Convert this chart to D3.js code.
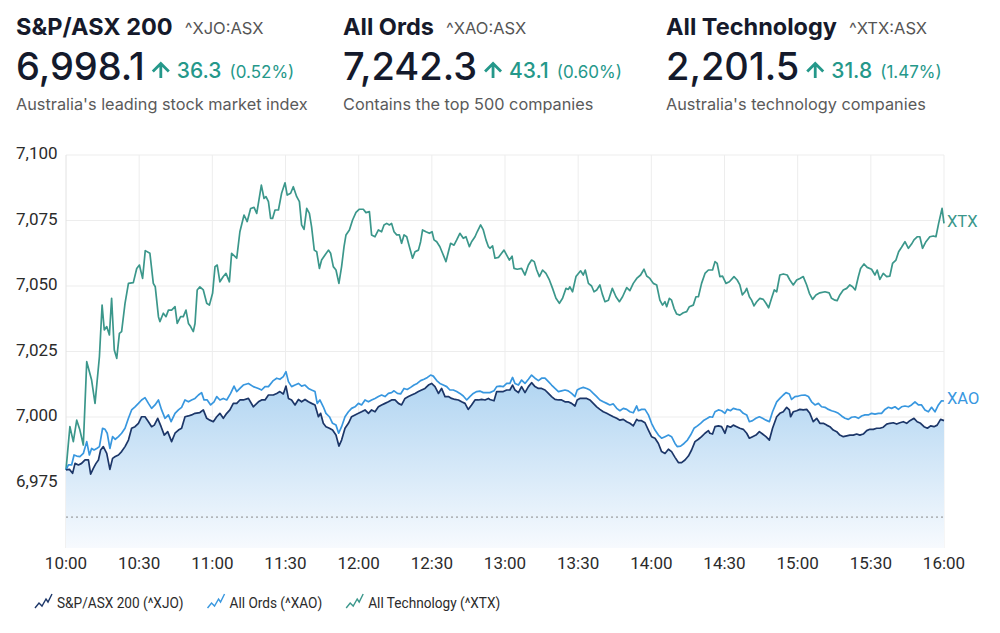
<!DOCTYPE html>
<html>
<head>
<meta charset="utf-8">
<script src="https://cdn.jsdelivr.net/npm/d3@7"></script>
<style>
  body { margin: 0; background: #fff; }
  svg { display: block; font-family: Inter, "Noto Sans", sans-serif; }
</style>
</head>
<body>
<div id="box"></div>
<script>
// header data
const indexNames = ["S&P/ASX 200", "All Ords", "All Technology"]
const tickers = ["^XJO:ASX", "^XAO:ASX", "^XTX:ASX"]
const prices = [6998.1, 7242.3, 2201.5]
const changes = [36.3, 43.1, 31.8]
const changePcts = [0.52, 0.60, 1.47]
const descriptions = ["Australia's leading stock market index", "Contains the top 500 companies", "Australia's technology companies"]

// chart data: [minutes after 10:00, value on the XJO scale]
const xjoData = [[0,6979.8],[1.4,6980.0],[2.7,6978.5],[3.7,6982.3],[5.1,6981.7],[6.4,6982.3],[7.8,6983.6],[9.2,6983.6],[10.1,6978.2],[11.2,6980.4],[12.3,6982.3],[13.3,6983.6],[14.2,6987.4],[15.3,6988.7],[16.7,6986.1],[18.0,6980.0],[19.1,6984.2],[20.2,6984.9],[21.5,6985.5],[22.8,6986.8],[24.2,6988.7],[25.6,6991.2],[26.9,6995.7],[28.3,6996.3],[29.7,6997.6],[31.0,7000.1],[32.4,7000.1],[33.8,6998.2],[35.1,6996.3],[36.2,6996.9],[37.6,6999.5],[39.0,6996.3],[40.3,6993.1],[41.7,6994.4],[43.3,6990.6],[44.7,6993.8],[46.1,6995.0],[47.4,6995.7],[48.8,7000.1],[50.2,7000.4],[51.5,7000.8],[52.9,7001.4],[54.9,7001.7],[56.3,7002.7],[57.7,6999.5],[59.0,6998.8],[60.4,6998.2],[61.8,7000.1],[63.1,7001.4],[64.5,6999.5],[65.9,7001.4],[67.2,7002.7],[68.6,7005.2],[70.0,7005.2],[71.3,7006.5],[72.7,7006.5],[74.8,7007.1],[76.8,7003.9],[78.9,7005.8],[80.2,7006.5],[81.6,7006.5],[83.0,7008.4],[85.0,7008.4],[86.4,7009.0],[87.7,7009.7],[89.1,7008.8],[90.2,7011.8],[91.2,7007.1],[92.5,7006.5],[93.9,7004.6],[95.3,7006.7],[96.6,7005.8],[98.0,7006.7],[99.4,7005.8],[100.7,7005.2],[102.1,7004.6],[103.5,7000.1],[104.4,7001.4],[105.5,6997.6],[106.6,6996.3],[108.0,6995.7],[109.3,6995.0],[110.7,6993.1],[111.9,6988.9],[113.0,6991.2],[114.4,6995.7],[115.8,6997.6],[117.1,7000.1],[118.5,7000.8],[119.9,7001.4],[121.2,7002.0],[122.6,7002.7],[124.0,7001.4],[125.3,7002.7],[126.7,7002.0],[128.1,7003.9],[129.4,7004.6],[130.8,7005.2],[132.2,7005.8],[133.5,7006.5],[134.9,7006.5],[136.3,7005.2],[137.6,7004.6],[139.0,7007.1],[140.4,7007.8],[141.7,7008.4],[143.1,7009.0],[144.5,7009.7],[145.8,7010.3],[147.2,7010.9],[148.6,7012.2],[149.9,7012.8],[151.3,7011.6],[152.7,7009.0],[154.0,7010.9],[155.4,7007.8],[156.8,7007.8],[158.1,7007.1],[159.5,7006.7],[160.9,7006.5],[162.2,7005.8],[163.6,7005.2],[164.9,7002.9],[166.3,7004.6],[167.7,7006.5],[169.1,7006.5],[170.4,7006.7],[171.8,7006.5],[173.2,7007.1],[173.8,7006.7],[175.5,7006.2],[176.6,7009.7],[177.9,7009.7],[179.3,7009.7],[180.7,7010.3],[182.0,7010.3],[183.1,7012.2],[184.1,7010.3],[185.5,7009.3],[186.8,7011.6],[188.2,7009.3],[189.6,7011.6],[190.9,7013.1],[192.3,7011.6],[193.7,7010.9],[195.0,7010.9],[196.4,7010.3],[197.8,7009.0],[199.1,7007.8],[200.5,7006.7],[201.9,7006.5],[203.2,7006.5],[204.6,7005.8],[205.9,7005.8],[207.3,7005.2],[208.7,7004.2],[209.6,7006.5],[210.7,7007.1],[212.1,7007.1],[213.5,7007.1],[214.8,7006.5],[216.2,7005.2],[217.6,7003.9],[218.9,7002.9],[220.3,7002.0],[221.7,7001.4],[223.0,7000.8],[224.4,7000.1],[225.8,6999.5],[227.1,6998.8],[228.5,6999.1],[229.9,6998.2],[231.2,6997.6],[232.6,6996.6],[234.0,6999.1],[234.7,6998.6],[236.0,6998.6],[237.4,6997.8],[238.8,6995.0],[240.1,6992.5],[241.5,6991.9],[242.9,6989.9],[244.2,6986.8],[245.6,6986.1],[247.0,6987.7],[248.3,6986.8],[249.7,6984.6],[251.1,6982.6],[252.4,6982.6],[253.8,6983.6],[255.2,6985.1],[256.5,6987.4],[257.9,6990.6],[259.3,6991.5],[260.6,6992.5],[262.0,6993.8],[263.4,6994.8],[264.0,6993.8],[265.1,6993.5],[266.1,6996.3],[267.5,6996.6],[268.8,6996.3],[270.2,6993.8],[271.1,6996.6],[272.5,6996.1],[273.6,6996.9],[275.0,6996.3],[276.3,6995.7],[277.7,6995.3],[279.1,6993.8],[280.2,6991.9],[281.5,6992.5],[282.9,6993.1],[284.3,6994.4],[285.6,6993.5],[287.0,6992.5],[288.4,6991.2],[289.7,6995.7],[291.4,7000.1],[292.7,7001.4],[294.1,7002.0],[295.5,7003.7],[296.6,7002.7],[297.1,7000.1],[298.2,7002.0],[299.6,7002.4],[300.9,7002.9],[302.3,7002.7],[303.7,7002.9],[305.0,7001.4],[306.4,6998.2],[307.8,6999.5],[309.1,6997.6],[310.5,6997.6],[311.9,6996.9],[313.2,6996.3],[314.6,6995.0],[316.0,6994.4],[317.3,6993.1],[318.7,6992.5],[320.1,6992.8],[321.4,6993.1],[322.8,6993.1],[324.2,6993.5],[325.5,6993.1],[326.9,6993.5],[328.3,6994.8],[329.6,6995.3],[331.0,6995.3],[332.4,6995.7],[333.7,6995.7],[335.1,6996.1],[336.5,6997.3],[337.8,6997.6],[339.2,6997.8],[340.6,6997.3],[341.9,6997.8],[343.3,6998.2],[344.7,6997.6],[346.0,6998.6],[347.7,6999.5],[349.0,6998.2],[350.4,6997.6],[351.8,6996.3],[353.2,6995.7],[354.5,6996.6],[355.9,6996.3],[357.2,6996.9],[358.6,6999.1],[360.0,6998.6]]

const xaoData = [[0,6979.8],[1.0,6981.7],[2.3,6981.7],[3.3,6985.5],[4.4,6985.1],[5.7,6984.9],[7.1,6986.1],[8.5,6990.6],[9.6,6985.5],[10.5,6988.0],[11.5,6987.4],[12.6,6988.0],[13.7,6988.7],[15.0,6995.7],[16.0,6995.3],[16.9,6993.8],[18.0,6988.0],[19.1,6992.5],[20.2,6991.5],[21.5,6992.5],[22.8,6993.8],[24.2,6995.7],[25.6,6999.5],[26.9,7002.7],[28.3,7003.9],[29.7,7005.2],[31.0,7006.5],[32.4,7007.4],[33.8,7005.2],[35.1,7003.3],[36.5,7004.6],[37.9,7006.5],[39.2,7002.7],[40.6,6999.5],[42.0,7000.8],[43.1,6998.2],[44.7,7001.4],[46.1,7002.7],[47.4,7003.7],[48.8,7006.5],[50.2,7005.8],[51.5,7006.5],[52.9,7007.1],[54.3,7008.4],[55.6,7009.3],[56.6,7006.5],[57.9,7006.5],[59.3,7004.6],[60.7,7005.8],[61.8,7007.8],[63.1,7006.5],[64.5,7007.1],[65.9,7006.5],[67.5,7009.0],[68.9,7011.8],[70.0,7009.7],[71.3,7010.9],[72.7,7012.2],[74.8,7012.8],[76.8,7011.6],[78.9,7010.9],[80.2,7010.3],[81.6,7011.6],[83.0,7011.6],[85.0,7013.9],[86.4,7014.8],[87.7,7014.4],[89.1,7015.4],[90.2,7017.3],[91.2,7013.5],[92.5,7011.6],[93.9,7012.2],[95.3,7012.8],[96.6,7011.8],[98.0,7012.2],[99.4,7010.9],[100.7,7010.3],[102.1,7009.7],[103.0,7005.2],[104.1,7006.5],[105.5,7003.9],[106.6,7001.4],[108.0,7000.1],[109.3,6997.6],[110.7,6996.9],[111.8,6993.8],[113.0,6996.3],[114.4,7000.1],[115.8,7002.0],[117.1,7003.3],[118.5,7003.9],[119.9,7005.2],[121.2,7004.6],[122.6,7006.5],[124.0,7005.8],[125.3,7006.5],[126.7,7007.1],[128.1,7007.8],[129.4,7008.4],[130.8,7007.8],[132.2,7009.0],[133.5,7009.3],[134.5,7010.0],[135.9,7009.0],[137.2,7008.8],[138.6,7010.9],[139.9,7010.5],[141.3,7011.3],[142.7,7012.2],[144.0,7012.8],[145.4,7013.9],[146.8,7014.4],[148.2,7015.1],[149.5,7016.0],[150.6,7015.6],[152.0,7013.9],[153.3,7012.8],[154.7,7012.2],[156.1,7011.6],[157.4,7010.3],[158.8,7010.3],[160.2,7009.7],[161.5,7009.0],[162.9,7008.0],[164.3,7006.5],[165.6,7007.8],[167.0,7009.0],[168.4,7009.7],[169.7,7009.9],[171.1,7009.3],[172.5,7009.3],[173.8,7009.3],[175.5,7010.0],[176.6,7011.6],[177.9,7011.8],[179.3,7011.6],[180.7,7012.8],[182.0,7012.8],[183.1,7015.1],[184.1,7012.8],[185.5,7012.2],[186.8,7014.1],[188.2,7012.8],[189.6,7014.4],[190.9,7016.0],[192.3,7014.8],[193.7,7013.9],[195.0,7014.8],[196.4,7014.8],[197.8,7013.5],[199.1,7012.2],[200.5,7010.9],[201.9,7009.7],[203.2,7010.0],[204.6,7010.3],[205.9,7010.0],[207.3,7009.0],[208.7,7007.8],[209.6,7010.3],[210.7,7010.9],[212.1,7011.3],[213.5,7010.9],[214.8,7010.3],[216.2,7009.0],[217.6,7007.8],[218.9,7006.5],[220.3,7005.8],[221.7,7005.2],[223.0,7004.6],[224.4,7005.0],[225.8,7003.3],[227.1,7002.4],[228.5,7003.3],[229.9,7002.9],[231.2,7002.0],[232.6,7001.6],[234.0,7004.2],[234.7,7002.4],[236.0,7002.9],[237.4,7002.9],[238.8,7000.8],[240.1,6997.6],[241.5,6995.0],[242.9,6993.1],[244.2,6991.9],[245.6,6992.5],[247.0,6993.1],[248.3,6992.5],[249.7,6989.9],[250.6,6988.7],[252.0,6988.9],[253.4,6989.9],[254.8,6991.2],[256.1,6993.1],[257.5,6995.7],[258.9,6996.6],[260.2,6997.6],[261.6,6998.8],[263.0,6999.5],[264.0,7000.1],[265.1,6999.9],[266.1,7002.0],[267.5,7002.7],[268.8,7002.4],[270.2,7001.4],[271.1,7002.9],[272.5,7002.4],[273.6,7003.3],[275.0,7002.9],[276.3,7002.7],[277.7,7001.4],[279.1,7000.8],[280.2,6998.2],[281.5,6998.6],[282.9,6999.5],[284.3,7000.1],[285.6,6999.5],[287.0,6998.8],[288.4,6998.2],[289.7,7002.0],[291.4,7005.8],[292.7,7007.1],[294.1,7008.4],[295.2,7009.3],[296.6,7008.8],[297.5,7006.7],[298.9,7007.8],[300.3,7008.0],[301.6,7008.3],[303.0,7008.4],[304.4,7007.8],[305.7,7005.8],[307.1,7004.6],[308.5,7005.2],[309.8,7003.9],[311.2,7003.7],[312.6,7002.9],[313.9,7002.4],[315.3,7002.0],[316.7,7001.4],[318.0,7000.4],[319.4,6999.5],[320.8,6999.1],[322.1,6999.9],[323.5,7000.1],[324.9,6999.5],[326.2,7000.4],[327.6,7000.8],[329.0,7000.8],[330.3,7001.4],[331.7,7001.1],[333.1,7001.4],[334.4,7001.4],[335.8,7002.9],[337.2,7003.7],[338.5,7003.3],[339.9,7003.9],[341.3,7002.9],[342.6,7003.9],[344.0,7004.2],[345.4,7003.9],[346.7,7004.6],[348.1,7005.8],[349.5,7004.6],[350.8,7004.6],[352.2,7002.7],[353.6,7002.0],[354.9,7003.7],[356.3,7002.0],[357.7,7004.6],[359.0,7006.2],[360.0,7006.1]]

const xtxData = [[0,6979.8],[1.6,6996.3],[3.0,6990.6],[4.4,6998.8],[5.7,6995.0],[7.1,6989.3],[8.5,7021.1],[10.5,7014.1],[11.9,7005.2],[13.7,7023.0],[14.8,7042.7],[15.7,7033.2],[16.7,7034.5],[17.8,7031.3],[18.7,7045.3],[19.8,7025.6],[20.8,7022.4],[21.9,7031.9],[22.8,7032.6],[24.2,7043.4],[25.6,7051.0],[27.6,7051.3],[29.0,7056.7],[30.1,7058.0],[31.4,7052.9],[32.5,7063.5],[34.4,7062.5],[35.8,7051.0],[36.6,7049.7],[37.9,7038.3],[38.5,7036.4],[39.9,7039.6],[41.0,7038.3],[42.0,7040.8],[43.3,7040.8],[44.7,7042.1],[45.6,7035.7],[47.0,7038.3],[48.1,7038.3],[49.2,7040.8],[50.2,7035.7],[51.1,7034.5],[52.2,7032.6],[52.9,7035.7],[53.8,7048.5],[54.9,7049.7],[56.3,7048.5],[57.7,7043.4],[58.8,7042.7],[60.1,7047.2],[61.1,7057.4],[62.0,7058.0],[63.1,7051.6],[64.5,7053.6],[65.6,7054.8],[67.0,7051.6],[67.9,7062.5],[70.0,7060.6],[71.3,7070.7],[73.0,7077.1],[74.3,7074.6],[75.7,7079.6],[77.1,7080.0],[78.2,7077.7],[79.0,7082.2],[80.1,7088.5],[81.2,7083.4],[82.0,7084.1],[83.0,7082.2],[83.9,7075.8],[84.7,7075.8],[85.7,7079.0],[87.1,7079.0],[88.4,7085.4],[89.8,7089.4],[90.7,7084.7],[92.1,7085.4],[93.2,7087.9],[94.6,7084.1],[95.7,7082.2],[96.6,7073.3],[97.6,7071.6],[98.7,7079.6],[99.8,7077.7],[100.7,7072.6],[101.8,7063.7],[102.8,7063.1],[103.9,7056.7],[104.8,7059.9],[106.2,7061.8],[107.6,7063.7],[108.5,7062.5],[109.6,7057.4],[110.7,7056.1],[111.9,7051.0],[113.0,7057.4],[114.0,7065.0],[114.8,7069.5],[116.2,7071.4],[117.5,7075.2],[118.9,7078.1],[120.3,7079.3],[121.9,7079.3],[123.0,7078.0],[124.4,7078.4],[125.3,7069.5],[126.7,7068.8],[128.1,7071.4],[129.4,7070.7],[130.4,7073.3],[131.5,7073.9],[132.6,7073.3],[133.5,7073.9],[134.5,7070.7],[135.6,7069.5],[136.7,7069.5],[137.6,7066.3],[138.6,7069.5],[139.7,7068.8],[140.8,7065.0],[142.1,7060.6],[143.1,7063.1],[144.5,7063.7],[145.4,7066.9],[146.2,7071.4],[147.6,7070.7],[149.0,7070.1],[150.1,7070.7],[150.9,7067.6],[152.0,7066.9],[153.3,7065.0],[154.4,7062.5],[155.8,7059.3],[156.8,7063.1],[157.7,7066.3],[159.1,7065.6],[160.2,7067.6],[161.5,7070.1],[162.9,7068.2],[164.0,7068.8],[165.4,7065.0],[166.3,7066.9],[167.7,7068.8],[168.6,7070.7],[170.0,7073.3],[171.1,7071.4],[172.2,7067.6],[173.2,7065.0],[173.8,7064.4],[174.9,7065.3],[175.9,7060.6],[177.3,7060.9],[178.6,7062.5],[179.6,7063.7],[180.7,7061.8],[181.8,7059.9],[182.9,7061.4],[183.7,7056.7],[185.0,7056.4],[186.8,7056.7],[188.2,7054.2],[189.6,7058.0],[190.9,7059.9],[192.0,7059.3],[193.0,7056.1],[194.1,7053.6],[195.4,7056.1],[196.8,7054.8],[198.2,7052.3],[199.5,7049.1],[200.9,7045.3],[202.3,7043.4],[203.6,7045.3],[205.0,7049.1],[206.0,7048.7],[206.6,7049.7],[207.7,7047.8],[209.1,7053.6],[210.1,7054.8],[211.0,7055.8],[212.1,7054.2],[212.9,7056.1],[214.2,7051.0],[215.5,7050.0],[216.5,7047.8],[217.6,7048.5],[218.9,7050.4],[219.9,7046.9],[221.0,7044.0],[222.4,7044.6],[224.0,7049.1],[225.5,7045.9],[226.9,7044.0],[228.2,7045.9],[229.9,7049.4],[231.2,7048.2],[232.6,7051.0],[234.0,7052.9],[235.6,7054.2],[237.0,7056.4],[238.1,7053.8],[239.4,7052.9],[240.8,7051.0],[242.2,7050.4],[243.5,7044.6],[244.6,7042.7],[245.6,7044.0],[246.3,7042.1],[247.4,7045.3],[248.3,7044.6],[249.3,7041.5],[250.4,7039.3],[251.7,7038.9],[253.1,7039.8],[254.5,7040.2],[255.6,7042.1],[257.2,7042.7],[258.3,7045.9],[259.3,7045.9],[260.6,7051.0],[262.0,7054.8],[263.4,7056.1],[264.0,7056.1],[265.1,7056.1],[266.1,7059.3],[267.0,7058.6],[268.1,7053.6],[269.2,7053.8],[270.6,7051.0],[272.0,7051.6],[273.9,7053.6],[275.2,7052.3],[276.3,7050.4],[277.3,7046.6],[278.4,7047.8],[279.1,7049.1],[280.2,7045.9],[281.1,7044.6],[282.1,7042.4],[283.2,7044.0],[284.5,7045.3],[285.9,7044.9],[287.0,7043.4],[288.1,7041.7],[289.3,7045.3],[290.4,7048.5],[291.4,7047.8],[292.7,7054.2],[294.1,7054.6],[295.7,7054.2],[296.8,7052.3],[298.2,7050.4],[299.6,7052.3],[300.9,7052.9],[302.3,7053.6],[303.7,7050.4],[304.8,7047.2],[306.1,7044.9],[307.5,7046.6],[309.1,7047.4],[311.2,7047.8],[312.9,7047.4],[313.9,7045.3],[315.3,7044.6],[316.2,7044.4],[317.3,7046.6],[318.7,7048.5],[320.1,7049.1],[321.4,7050.4],[322.5,7049.7],[323.6,7048.5],[324.9,7053.6],[325.8,7056.7],[327.2,7058.4],[328.5,7057.1],[330.3,7056.4],[331.7,7054.2],[332.6,7056.1],[333.7,7052.5],[335.1,7054.8],[336.5,7053.6],[337.8,7053.8],[338.9,7058.6],[340.3,7059.9],[341.4,7063.1],[342.6,7064.8],[344.0,7066.9],[345.4,7064.4],[346.7,7066.0],[347.7,7067.6],[349.1,7068.8],[350.1,7068.8],[351.2,7064.4],[352.6,7066.9],[354.2,7068.8],[355.6,7069.1],[356.7,7068.8],[357.8,7073.9],[359.2,7079.6],[360.0,7073.9]]

const prevClose = 6961.8
const yTicks = [6975, 7000, 7025, 7050, 7075, 7100]
const timeTicks = [0, 30, 60, 90, 120, 150, 180, 210, 240, 270, 300, 330, 360]
const timeLabels = ["10:00", "10:30", "11:00", "11:30", "12:00", "12:30", "13:00", "13:30", "14:00", "14:30", "15:00", "15:30", "16:00"]
const legendLabels = ["S&P/ASX 200 (^XJO)", "All Ords (^XAO)", "All Technology (^XTX)"]
const endLabels = ["XTX", "XAO"]

// 画布
const width = 1000
const height = 633
const colors = {xjo: "#1c3668", xao: "#3897df", xtx: "#3b978b"}
const teal = "#25988a"
const axisFont = "Roboto, sans-serif"

const svg = d3.select('#box').append('svg')
  .attr('width', width)
  .attr('height', height)

// 头部三个指数
const blockX = [16, 343, 666]
blockX.forEach((bx, i) => {
  const g = svg.append('g').attr('transform', `translate(${bx},0)`)
  const title = g.append('text')
    .attr('y', 35)
    .attr('font-size', 23.5).attr('font-weight', 700).attr('fill', '#161a2b')
    .text(indexNames[i])
  const tw = title.node().getComputedTextLength()
  g.append('text')
    .attr('x', tw + 12).attr('y', 34)
    .attr('font-size', 16.5).attr('fill', '#555')
    .text(tickers[i])

  const price = g.append('text')
    .attr('y', 80)
    .attr('font-size', 38).attr('font-weight', 500).attr('fill', '#141a2c')
    .text(d3.format(',.1f')(prices[i]))
  const pw = price.node().getComputedTextLength()

  // 上升箭头
  const ax = pw + 16
  g.append('path')
    .attr('d', `M${ax},78 V64 M${ax - 8},71.5 L${ax},63.5 L${ax + 8},71.5`)
    .attr('fill', 'none').attr('stroke', teal).attr('stroke-width', 2.8)
  const chg = g.append('text')
    .attr('x', ax + 16).attr('y', 78)
    .attr('font-size', 21).attr('font-weight', 500).attr('fill', teal)
    .text(changes[i].toFixed(1))
  const cw = chg.node().getComputedTextLength()
  g.append('text')
    .attr('x', ax + 16 + cw + 8).attr('y', 78)
    .attr('font-size', 17).attr('fill', teal)
    .text(`(${changePcts[i].toFixed(2)}%)`)

  g.append('text')
    .attr('y', 110)
    .attr('font-size', 16.3).attr('fill', '#5a5a5a')
    .text(descriptions[i])
})

// 比例尺
const x = d3.scaleLinear().domain([0, 360]).range([66, 944])
const y = d3.scaleLinear().domain([6950, 7100]).range([548, 155])

// 网格
const grid = svg.append('g')
grid.selectAll('.hg').data(yTicks).join('line')
  .attr('x1', x(0)).attr('x2', x(360))
  .attr('y1', d => y(d)).attr('y2', d => y(d))
  .attr('stroke', '#ededed')
grid.selectAll('.vg').data(timeTicks).join('line')
  .attr('x1', d => x(d)).attr('x2', d => x(d))
  .attr('y1', y(7100)).attr('y2', y(6950))
  .attr('stroke', d => d === 0 ? '#e2e2e2' : '#ededed')

// 面积渐变
const defs = svg.append('defs')
const grad = defs.append('linearGradient')
  .attr('id', 'areaGrad')
  .attr('gradientUnits', 'userSpaceOnUse')
  .attr('x1', 0).attr('x2', 0).attr('y1', y(7012)).attr('y2', y(6950))
grad.append('stop').attr('offset', 0).attr('stop-color', '#b3d6f2')
grad.append('stop').attr('offset', 1).attr('stop-color', '#f7fafe')

const area = d3.area()
  .x(d => x(d[0]))
  .y0(y(6950))
  .y1(d => y(d[1]))
svg.append('path').datum(xjoData)
  .attr('d', area)
  .attr('fill', 'url(#areaGrad)')

// 昨收虚线
svg.append('line')
  .attr('x1', x(0)).attr('x2', x(360))
  .attr('y1', y(prevClose)).attr('y2', y(prevClose))
  .attr('stroke', '#8a8a8a').attr('stroke-dasharray', '2,3')

// 折线
const line = d3.line().x(d => x(d[0])).y(d => y(d[1]))
const series = [[xtxData, colors.xtx], [xaoData, colors.xao], [xjoData, colors.xjo]]
series.forEach(([data, c]) => {
  svg.append('path').datum(data)
    .attr('d', line)
    .attr('fill', 'none')
    .attr('stroke', c)
    .attr('stroke-width', 1.7)
    .attr('stroke-linejoin', 'round')
})

// 末端标签
const endData = [[xtxData, colors.xtx], [xaoData, colors.xao]]
endData.forEach(([data, c], i) => {
  const last = data[data.length - 1]
  svg.append('text')
    .attr('x', x(last[0]) + 3)
    .attr('y', y(last[1]) - 1)
    .attr('dominant-baseline', 'middle')
    .attr('font-family', axisFont)
    .attr('font-size', 16.5).attr('fill', c)
    .text(endLabels[i])
})

// 坐标轴
const yAxis = svg.append('g').attr('font-family', axisFont)
yAxis.selectAll('text').data(yTicks).join('text')
  .attr('x', 16).attr('y', d => y(d))
  .attr('dominant-baseline', 'middle')
  .attr('font-size', 17).attr('fill', '#2b2b2b')
  .text(d => d3.format(',')(d))

const xAxis = svg.append('g').attr('font-family', axisFont)
xAxis.selectAll('text').data(timeTicks).join('text')
  .attr('x', d => x(d)).attr('y', 569)
  .attr('text-anchor', 'middle')
  .attr('font-size', 17).attr('fill', '#2b2b2b')
  .text((d, i) => timeLabels[i])

// 图例 (文字横向略压缩)
const legendColors = [colors.xjo, colors.xao, colors.xtx]
const iconLine = d3.line()
const icon = [[0, 14], [4, 9], [7, 12], [11, 5], [13, 8], [17, 0]]
const squeeze = 0.88
let cursor = 35
legendLabels.forEach((lbl, i) => {
  const g = svg.append('g').attr('transform', `translate(${cursor},594)`)
  g.append('path')
    .attr('d', iconLine(icon))
    .attr('fill', 'none').attr('stroke', legendColors[i]).attr('stroke-width', 1.4)
  const t = g.append('text')
    .attr('transform', `translate(22,14) scale(${squeeze},1)`)
    .attr('font-family', axisFont)
    .attr('font-size', 15.5).attr('fill', '#2b2b2b')
    .text(lbl)
  cursor += 22 + t.node().getComputedTextLength() * squeeze + 24
})
</script>
</body>
</html>
